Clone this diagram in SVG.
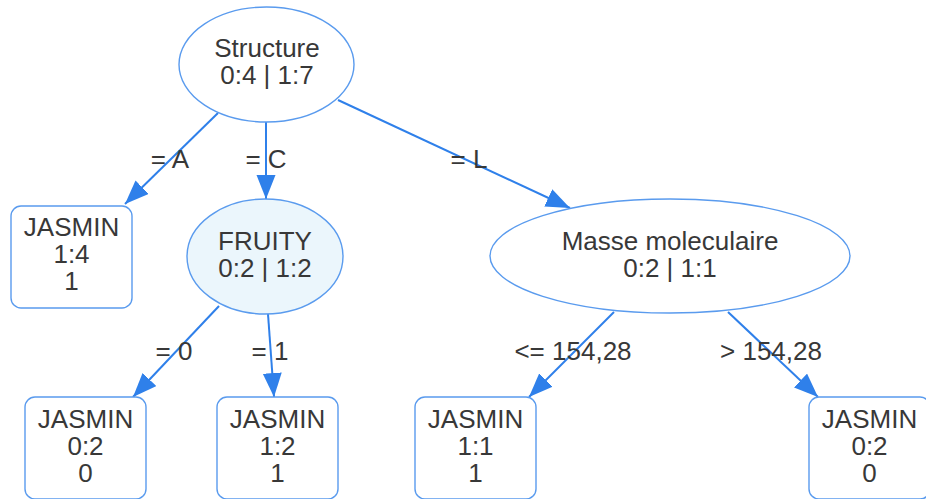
<svg xmlns="http://www.w3.org/2000/svg" width="926" height="499" viewBox="0 0 926 499">
<defs>
<style>
text{font-family:"Liberation Sans",Arial,sans-serif;font-size:26px;fill:#383838;text-anchor:middle}
.n{fill:#fff;stroke:#5a9bee;stroke-width:1.4}
.f{fill:#ebf6fc}
.e{stroke:#2f80ea;stroke-width:2;fill:none;marker-end:url(#ah)}
</style>
<marker id="ah" markerUnits="userSpaceOnUse" markerWidth="26" markerHeight="20" refX="24" refY="9.5" orient="auto" viewBox="0 0 26 20">
<path d="M0,0 L24,9.5 L0,19 z" fill="#2f80ea"/>
</marker>
</defs>
<rect width="926" height="499" fill="#fff"/>
<g id="edges">
<line class="e" x1="218" y1="113" x2="125" y2="204"/>
<line class="e" x1="266" y1="122" x2="266" y2="199"/>
<line class="e" x1="338" y1="100" x2="570" y2="208"/>
<line class="e" x1="219" y1="306" x2="133" y2="397"/>
<line class="e" x1="268" y1="314" x2="274" y2="397"/>
<line class="e" x1="614" y1="312" x2="529" y2="397"/>
<line class="e" x1="728" y1="312" x2="818" y2="397"/>
<text x="170" y="168">= A</text>
<text x="266" y="168">= C</text>
<text x="469" y="168">= L</text>
<text x="174" y="360">= 0</text>
<text x="270" y="360">= 1</text>
<text x="573" y="360">&lt;= 154,28</text>
<text x="771" y="360">&gt; 154,28</text>
</g>
<g id="structure">
<ellipse class="n" cx="266.5" cy="64.5" rx="87.5" ry="57.5"/>
<text x="267" y="57">Structure</text>
<text x="267" y="84">0:4 | 1:7</text>
</g>
<g id="leafA">
<rect class="n" x="11" y="206" width="121" height="102" rx="10"/>
<text x="71.5" y="236">JASMIN</text>
<text x="71.5" y="263">1:4</text>
<text x="71.5" y="290">1</text>
</g>
<g id="fruity">
<ellipse class="n f" cx="265" cy="256.5" rx="78" ry="57.5"/>
<text x="265" y="250">FRUITY</text>
<text x="265" y="277">0:2 | 1:2</text>
</g>
<g id="masse">
<ellipse class="n" cx="670" cy="256" rx="180" ry="57"/>
<text x="670" y="250">Masse moleculaire</text>
<text x="670" y="277">0:2 | 1:1</text>
</g>
<g id="leaf0">
<rect class="n" x="25" y="397" width="121" height="102" rx="10"/>
<text x="85.5" y="428">JASMIN</text>
<text x="85.5" y="455">0:2</text>
<text x="85.5" y="482">0</text>
</g>
<g id="leaf1">
<rect class="n" x="217" y="397" width="121" height="102" rx="10"/>
<text x="277.5" y="428">JASMIN</text>
<text x="277.5" y="455">1:2</text>
<text x="277.5" y="482">1</text>
</g>
<g id="leafLe">
<rect class="n" x="415" y="397" width="121" height="102" rx="10"/>
<text x="475.5" y="428">JASMIN</text>
<text x="475.5" y="455">1:1</text>
<text x="475.5" y="482">1</text>
</g>
<g id="leafGt">
<rect class="n" x="809" y="397" width="121" height="102" rx="10"/>
<text x="869.5" y="428">JASMIN</text>
<text x="869.5" y="455">0:2</text>
<text x="869.5" y="482">0</text>
</g>
</svg>
